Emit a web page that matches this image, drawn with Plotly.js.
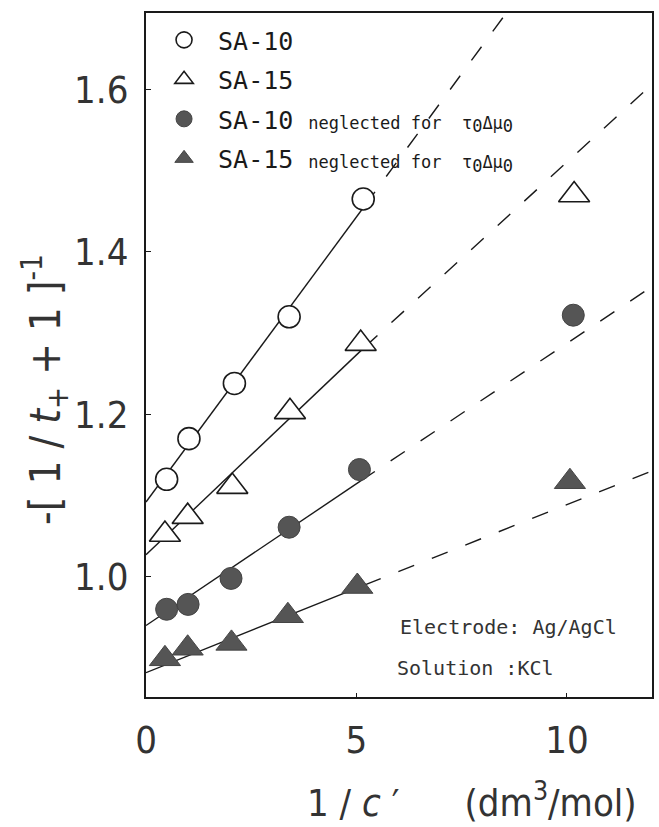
<!DOCTYPE html>
<html>
<head>
<meta charset="utf-8">
<script src="https://cdn.plot.ly/plotly-3.0.1.min.js"></script>
<style>html,body{margin:0;padding:0;background:#fff;}</style>
</head>
<body>
<div id="chart" style="width:659px;height:827px;"></div>
<script>
// ---- data ----
const sa10X = [0.49, 1.02, 2.10, 3.40, 5.16];
const sa10Y = [1.120, 1.170, 1.238, 1.320, 1.465];

const sa15X = [0.45, 0.99, 2.05, 3.42, 5.10, 10.17];
const sa15Y = [1.052, 1.074, 1.111, 1.203, 1.287, 1.470];

const sa10nX = [0.49, 1.00, 2.02, 3.40, 5.07, 10.15];
const sa10nY = [0.960, 0.966, 0.998, 1.061, 1.132, 1.322];

const sa15nX = [0.45, 0.99, 2.03, 3.37, 5.02, 10.07];
const sa15nY = [0.899, 0.912, 0.918, 0.952, 0.988, 1.117];

// fitted lines (solid part, dashed extrapolation)
const sa10SolidX = [0, 5.2],  sa10SolidY = [1.092, 1.457];
const sa10DashX  = [5.2, 8.7], sa10DashY  = [1.457, 1.704];
const sa15SolidX = [0, 5.2],  sa15SolidY = [1.027, 1.283];
const sa15DashX  = [5.2, 12.1], sa15DashY = [1.283, 1.610];
const sa10nSolidX = [0, 5.1], sa10nSolidY = [0.940, 1.118];
const sa10nDashX  = [5.1, 12.1], sa10nDashY = [1.118, 1.360];
const sa15nSolidX = [0, 5.2], sa15nSolidY = [0.882, 0.990];
const sa15nDashX  = [5.2, 12.1], sa15nDashY = [0.990, 1.132];

const xTicks = [0, 5, 10];
const yTicks = [1.0, 1.2, 1.4, 1.6];

const small = "<span style='font-size:17px'>neglected for  τ<sub><span style='font-size:17px'>0</span></sub>Δμ<sub><span style='font-size:17px'>0</span></sub></span>";
const seriesNames = [
  "SA-10",
  "SA-15",
  "SA-10 " + small,
  "SA-15 " + small
];

// ---- styling ----
const ink = '#1a1a1a';
const gray = '#555555';
const mono = 'DejaVu Sans Mono, monospace';
const narrow = 'Liberation Sans Narrow, DejaVu Sans Condensed, Arial Narrow, sans-serif';

function lineTrace(x, y, dash) {
  return {x: x, y: y, type: 'scatter', mode: 'lines', showlegend: false, hoverinfo: 'skip',
          line: {color: ink, width: 1.4, dash: dash}};
}

const traces = [
  lineTrace(sa10SolidX, sa10SolidY, 'solid'),
  lineTrace(sa10DashX, sa10DashY, '17px,19px'),
  lineTrace(sa15SolidX, sa15SolidY, 'solid'),
  lineTrace(sa15DashX, sa15DashY, '17px,19px'),
  lineTrace(sa10nSolidX, sa10nSolidY, 'solid'),
  lineTrace(sa10nDashX, sa10nDashY, '17px,19px'),
  lineTrace(sa15nSolidX, sa15nSolidY, 'solid'),
  lineTrace(sa15nDashX, sa15nDashY, '17px,19px'),
  {x: sa10X, y: sa10Y, type: 'scatter', mode: 'markers', name: seriesNames[0], legendgroup: 'a',
   marker: {symbol: 'circle', size: 22, color: '#ffffff', line: {color: ink, width: 1.6}}},
  {x: sa15X, y: sa15Y, type: 'scatter', mode: 'markers', name: seriesNames[1], legendgroup: 'b',
   marker: {symbol: 'triangle-up', size: 27, color: '#ffffff', line: {color: ink, width: 1.6}}},
  {x: sa10nX, y: sa10nY, type: 'scatter', mode: 'markers', name: seriesNames[2], legendgroup: 'c',
   marker: {symbol: 'circle', size: 22, color: gray, line: {color: '#444', width: 1}}},
  {x: sa15nX, y: sa15nY, type: 'scatter', mode: 'markers', name: seriesNames[3], legendgroup: 'd',
   marker: {symbol: 'triangle-up', size: 27, color: gray, line: {color: '#444', width: 1}}}
];

const layout = {
  width: 659, height: 827,
  margin: {l: 146, r: 7, t: 13, b: 130},
  paper_bgcolor: '#ffffff', plot_bgcolor: '#ffffff',
  showlegend: true,
  legend: {x: 0.008, y: 0.994, xanchor: 'left', yanchor: 'top',
           bgcolor: 'rgba(0,0,0,0)', borderwidth: 0,
           font: {family: mono, size: 25, color: ink},
           itemwidth: 58, tracegroupgap: 4,
           traceorder: 'grouped', itemclick: false},
  xaxis: {range: [0, 12.02], tickvals: xTicks, ticktext: xTicks.map(String),
          showgrid: false, zeroline: false, showline: true, mirror: true,
          linecolor: ink, linewidth: 2, ticks: 'inside', ticklen: 4, tickcolor: ink,
          tickfont: {family: narrow, size: 38, color: '#333'}, ticklabelstandoff: 8},
  yaxis: {range: [0.852, 1.694], tickvals: yTicks, ticktext: yTicks.map(v => v.toFixed(1)),
          showgrid: false, zeroline: false, showline: true, mirror: true,
          linecolor: ink, linewidth: 2, ticks: 'inside', ticklen: 5, tickcolor: ink,
          tickfont: {family: narrow, size: 38, color: '#333'}, ticklabelstandoff: 8},
  annotations: [
    {text: 'Electrode: Ag/AgCl', xref: 'paper', yref: 'paper',
     x: (398 - 146) / 506, y: (697 - 627) / 684, xanchor: 'left', yanchor: 'middle',
     showarrow: false, font: {family: mono, size: 20, color: '#333'}},
    {text: 'Solution :KCl', xref: 'paper', yref: 'paper',
     x: (395 - 146) / 506, y: (697 - 668) / 684, xanchor: 'left', yanchor: 'middle',
     showarrow: false, font: {family: mono, size: 20, color: '#333'}},
    {text: '-[ 1 / <i>t</i><sub>+</sub> + 1 ]<sup>-1</sup>', xref: 'paper', yref: 'paper',
     x: (45 - 146) / 506, y: (697 - 390) / 684, xanchor: 'center', yanchor: 'middle',
     textangle: -90, showarrow: false, font: {family: narrow, size: 42, color: '#333'}},
    {text: '1 / <i>c</i> ′      (dm<sup>3</sup>/mol)', xref: 'paper', yref: 'paper',
     x: (305 - 146) / 506, y: (697 - 800) / 684, xanchor: 'left', yanchor: 'middle',
     showarrow: false, font: {family: narrow, size: 38, color: '#333'}}
  ]
};

Plotly.newPlot('chart', traces, layout, {displayModeBar: false, staticPlot: true});
</script>
</body>
</html>
